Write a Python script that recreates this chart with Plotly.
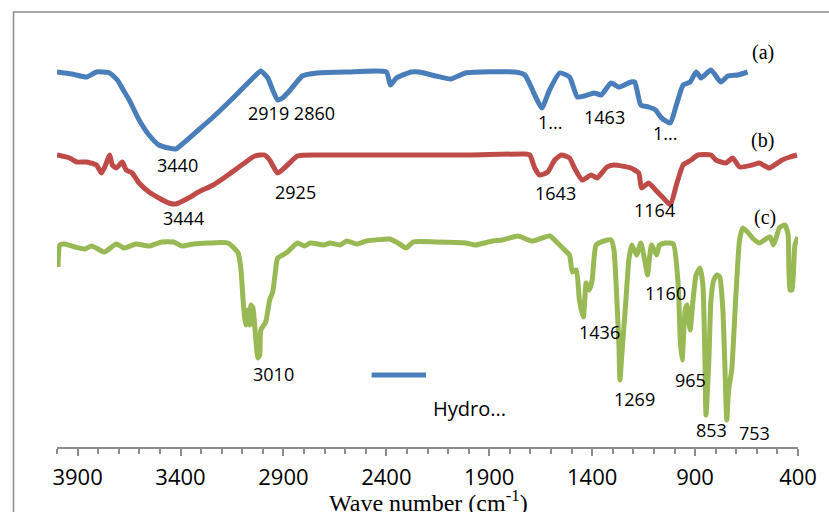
import plotly.graph_objects as go

# ---------------- data (wavenumber cm-1, offset transmittance, arbitrary units) ----------------
wn_a = [4000, 3928, 3856, 3808, 3745, 3707, 3678, 3649, 3601, 3553, 3505, 3457, 3423, 3385, 3313,
        3241, 3120, 3048, 3010, 2976, 2952, 2928, 2904, 2880, 2847, 2808, 2736, 2592, 2400, 2380,
        2351, 2279, 2241, 2159, 2087, 2015, 1775, 1727, 1679, 1645, 1607, 1558, 1510, 1472, 1438,
        1390, 1357, 1308, 1270, 1212, 1193, 1164, 1126, 1092, 1063, 1020, 991, 958, 924, 895,
        871, 823, 775, 741, 693, 645]
t_a = [375, 373, 370, 375, 374, 367, 357, 347, 327, 312, 302, 299, 298, 304, 317,
       330, 354, 369, 376, 369, 357, 347, 349, 354, 362, 371, 374, 375, 375, 362,
       369, 375, 375, 371, 368, 374, 375, 372, 352, 339, 357, 374, 370, 350, 351,
       354, 352, 364, 360, 365, 365, 342, 340, 337, 329, 324, 342, 362, 365, 375,
       369, 377, 365, 371, 372, 375]

wn_b = [4000, 3938, 3904, 3856, 3808, 3784, 3760, 3745, 3731, 3712, 3683, 3664, 3635, 3601, 3553,
        3505, 3457, 3423, 3361, 3313, 3241, 3169, 3096, 3039, 2991, 2967, 2928, 2880, 2832, 2736,
        2400, 2000, 1727, 1703, 1679, 1655, 1616, 1582, 1549, 1510, 1486, 1448, 1405, 1376, 1328,
        1294, 1212, 1174, 1160, 1126, 1092, 1054, 1020, 991, 958, 919, 886, 823, 799, 751,
        717, 684, 621, 588, 540, 477, 439, 405]
t_b = [292, 289, 285, 285, 282, 274, 284, 292, 282, 279, 285, 277, 274, 264, 255,
       249, 244, 243, 249, 255, 262, 272, 283, 291, 292, 287, 274, 282, 291, 292,
       292, 292, 293, 292, 279, 272, 275, 287, 292, 289, 279, 267, 272, 269, 280,
       282, 279, 274, 259, 264, 257, 249, 242, 262, 282, 287, 292, 292, 287, 284,
       289, 280, 282, 284, 279, 287, 290, 292]

wn_c = [3995, 3986, 3962, 3913, 3865, 3832, 3769, 3712, 3673, 3616, 3553, 3491, 3433, 3394, 3337,
        3265, 3169, 3120, 3106, 3096, 3087, 3082, 3072, 3063, 3058, 3048, 3034, 3024, 3015, 3010,
        2986, 2967, 2952, 2938, 2928, 2904, 2880, 2832, 2798, 2770, 2702, 2674, 2625, 2592, 2544,
        2496, 2385, 2351, 2303, 2270, 2159, 2015, 1967, 1885, 1837, 1760, 1693, 1606, 1568, 1534,
        1510, 1496, 1477, 1462, 1443, 1429, 1414, 1400, 1381, 1342, 1308, 1294, 1280, 1270, 1265,
        1256, 1236, 1222, 1208, 1184, 1164, 1140, 1131, 1112, 1087, 1073, 1044, 1006, 982, 972,
        963, 948, 939, 924, 910, 895, 876, 862, 852, 847, 833, 823, 809, 794, 780,
        765, 756, 746, 737, 722, 703, 684, 669, 645, 621, 588, 549, 535, 520, 506,
        491, 463, 448, 439, 429, 415, 400]
t_c = [180, 202, 203, 200, 198, 201, 195, 203, 199, 203, 201, 205, 205, 201, 203,
       204, 204, 194, 177, 147, 127, 122, 137, 122, 142, 139, 107, 89, 92, 117,
       125, 147, 155, 177, 189, 192, 195, 204, 201, 204, 202, 204, 202, 206, 203,
       206, 208, 205, 199, 205, 205, 204, 202, 206, 207, 211, 206, 211, 204, 197,
       192, 175, 177, 147, 130, 164, 157, 167, 202, 206, 207, 197, 147, 102, 67,
       92, 147, 187, 202, 192, 204, 182, 172, 202, 192, 202, 204, 203, 162, 107,
       87, 137, 142, 117, 147, 172, 179, 162, 87, 32, 87, 147, 167, 172, 170,
       137, 87, 27, 57, 77, 147, 207, 219, 215, 209, 204, 209, 210, 202, 209,
       219, 222, 212, 157, 157, 202, 210]

# peak labels: (text, wavenumber position, y position)
labels_a = [("3440", 3414, 282), ("2919 2860", 2861, 334), ("1...", 1607, 325),
            ("1463", 1342, 330), ("1...", 1044, 314)]
labels_b = [("3444", 3385, 229), ("2925", 2842, 255), ("1643", 1578, 254), ("1164", 1097, 237)]
labels_c = [("3010", 2947, 73), ("1436", 1366, 115), ("1269", 1193, 48), ("1160", 1044, 154),
            ("965", 924, 67), ("853", 818, 17), ("753", 612, 14)]
curve_tags = [("(a)", 568, 395), ("(b)", 573, 307), ("(c)", 559, 230)]

tick_vals = [3900, 3400, 2900, 2400, 1900, 1400, 900, 400]

BLUE, RED, GREEN = "#4A7EBB", "#BE4B48", "#98B954"

fig = go.Figure()
for xs, ys, col in [(wn_a, t_a, BLUE), (wn_b, t_b, RED), (wn_c, t_c, GREEN)]:
    fig.add_trace(go.Scatter(x=xs, y=ys, mode="lines",
                             line=dict(color=col, width=5, shape="spline", smoothing=0.5),
                             showlegend=False))

lab_font = dict(family="Open Sans", size=18, color="#000000")
for txt, xx, yy in labels_a + labels_b + labels_c:
    fig.add_annotation(x=xx, y=yy, text=txt, showarrow=False, font=lab_font,
                       xanchor="center", yanchor="middle")
for txt, xx, yy in curve_tags:
    fig.add_annotation(x=xx, y=yy, text=txt, showarrow=False,
                       font=dict(family="Liberation Serif", size=20, color="#000000"),
                       xanchor="center", yanchor="middle")

# legend (line sample + truncated text)
fig.add_shape(type="line", xref="paper", yref="paper", x0=0.4246, x1=0.498, y0=0.1655, y1=0.1655,
              line=dict(color=BLUE, width=5))
fig.add_annotation(xref="paper", yref="paper", x=0.5047, y=0.0874, text="Hydro...",
                   showarrow=False, xanchor="left", yanchor="middle",
                   font=dict(family="Open Sans", size=20, color="#000000"))

# axis title
fig.add_annotation(xref="paper", yref="paper", x=0.5007, y=-0.123,
                   text="Wave number (cm<sup>-1</sup>)", showarrow=False,
                   xanchor="center", yanchor="middle",
                   font=dict(family="Liberation Serif", size=24, color="#000000"))

# chart-area border
fig.add_shape(type="rect", xref="paper", yref="paper", x0=-0.0587, x1=1.3, y0=-0.6, y1=1.0,
              line=dict(color="#8C8C8C", width=1.5), fillcolor="rgba(0,0,0,0)", layer="below")

fig.update_layout(
    width=829, height=512,
    margin=dict(l=57, r=23, t=12, b=65),
    paper_bgcolor="white", plot_bgcolor="white",
    showlegend=False,
    xaxis=dict(range=[4000, 400], tickvals=tick_vals, ticktext=[str(v) for v in tick_vals],
               showgrid=False, zeroline=False, showline=True, linecolor="#8C8C8C", linewidth=1.5,
               ticks="outside", ticklen=7, tickcolor="#8C8C8C", tickwidth=1.5,
               tickfont=dict(family="Open Sans", size=22, color="#000000"),
               ticklabelstandoff=3,
               minor=dict(dtick=100, tick0=400, ticks="outside", ticklen=5,
                          tickcolor="#8C8C8C", tickwidth=1.5, showgrid=False)),
    yaxis=dict(range=[0, 435], visible=False, showgrid=False, zeroline=False),
)

fig.write_html("out.html")
